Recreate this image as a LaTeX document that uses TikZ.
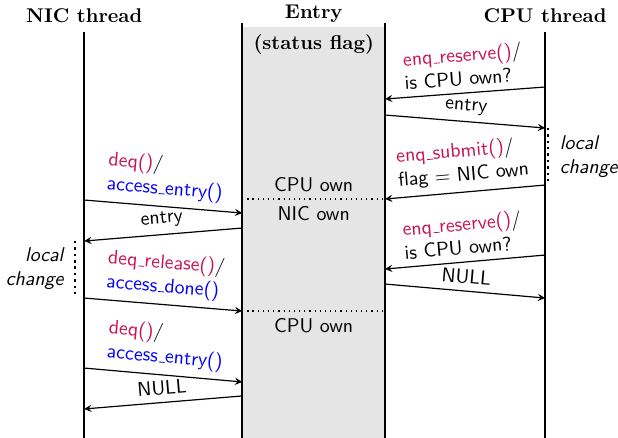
\documentclass[tikz,border=0pt]{standalone}
\usepackage{tikz}
\definecolor{fnred}{RGB}{200,20,80}
\newcommand{\us}{\leavevmode\kern.06em\vbox{\hrule width.3em}}

\begin{document}
\begin{tikzpicture}[>=stealth, x=0.93cm, y=0.93cm]
  \useasboundingbox (0, 0) rectangle (11.74, 8.32);
  % entry column
  \fill[gray!20] (4.6, 0) rectangle (7.315, 7.8);
  \draw[line width=1pt] (1.6, 0) -- (1.6, 7.71) coordinate (nic);
  \draw[line width=1pt] (4.6, 0) -- (4.6, 7.88) coordinate (entl);
  \draw[line width=1pt] (7.315, 0) -- (7.315, 7.88) coordinate (entr);
  \draw[line width=1pt] (10.355, 0) -- (10.355, 7.71) coordinate (cpu);
  \node[font=\bfseries] (nichead) at (1.6, 8.02) {NIC thread};
  \node[font=\bfseries] (enthead) at (5.96, 8.05) {Entry};
  \node[font=\bfseries] (enthead2) at (5.96, 7.48) {(status flag)};
  \node[font=\bfseries] (cpuhead) at (10.355, 8.02) {CPU thread};

  % CPU side
  \draw[->, semithick] (cpu |- 0, 6.667) -- (entr |- 0, 6.439)
    node[midway, above, sloped, align=left, font=\sffamily]
    {\textcolor{fnred}{enq\us reserve()}/\\is CPU own?};
  \draw[->, semithick] (entr |- 0, 6.135) -- (cpu |- 0, 5.888)
    node[midway, above, sloped, font=\sffamily] {entry};
  \draw[->, semithick] (cpu |- 0, 4.805) -- (entr |- 0, 4.539)
    node[midway, above, sloped, align=left, font=\sffamily]
    {\textcolor{fnred}{enq\us submit()}/\\flag = NIC own};
  \draw[->, semithick] (cpu |- 0, 3.475) -- (entr |- 0, 3.209)
    node[midway, above, sloped, align=left, font=\sffamily]
    {\textcolor{fnred}{enq\us reserve()}/\\is CPU own?};
  \draw[->, semithick] (entr |- 0, 2.924) -- (cpu |- 0, 2.658)
    node[midway, above, sloped, font=\sffamily] {NULL};

  % NIC side
  \draw[->, semithick] (nic |- 0, 4.52) -- (entl |- 0, 4.273)
    node[midway, above, sloped, align=left, font=\sffamily]
    {\textcolor{fnred}{deq()}/\\\textcolor{blue}{access\us entry()}};
  \draw[->, semithick] (entl |- 0, 3.988) -- (nic |- 0, 3.741)
    node[midway, above, sloped, font=\sffamily] {entry};
  \draw[->, semithick] (nic |- 0, 2.658) -- (entl |- 0, 2.411)
    node[midway, above, sloped, align=left, font=\sffamily]
    {\textcolor{fnred}{deq\us release()}/\\\textcolor{blue}{access\us done()}};
  \draw[->, semithick] (nic |- 0, 1.328) -- (entl |- 0, 1.064)
    node[midway, above, sloped, align=left, font=\sffamily]
    {\textcolor{fnred}{deq()}/\\\textcolor{blue}{access\us entry()}};
  \draw[->, semithick] (entl |- 0, 0.798) -- (nic |- 0, 0.551)
    node[midway, above, sloped, font=\sffamily] {NULL};

  % flag states
  \draw[dotted, semithick] (entl |- 0, 4.539) -- (entr |- 0, 4.539);
  \draw[dotted, semithick] (entl |- 0, 2.411) -- (entr |- 0, 2.411);
  \node[font=\sffamily, above] (own1) at (5.96, 4.539) {CPU own};
  \node[font=\sffamily, below] (own2) at (5.96, 4.539) {NIC own};
  \node[font=\sffamily, below] (own3) at (5.96, 2.411) {CPU own};

  % local changes
  \draw[dotted, line width=1.2pt] (10.41, 5.888) -- (10.41, 4.805);
  \node[font=\sffamily\itshape, align=left, right] (loc1) at (10.5, 5.35) {local\\change};
  \draw[dotted, line width=1.2pt] (1.425, 3.741) -- (1.425, 2.696);
  \node[font=\sffamily\itshape, align=right, left] (loc2) at (1.34, 3.22) {local\\change};
\end{tikzpicture}
\end{document}
